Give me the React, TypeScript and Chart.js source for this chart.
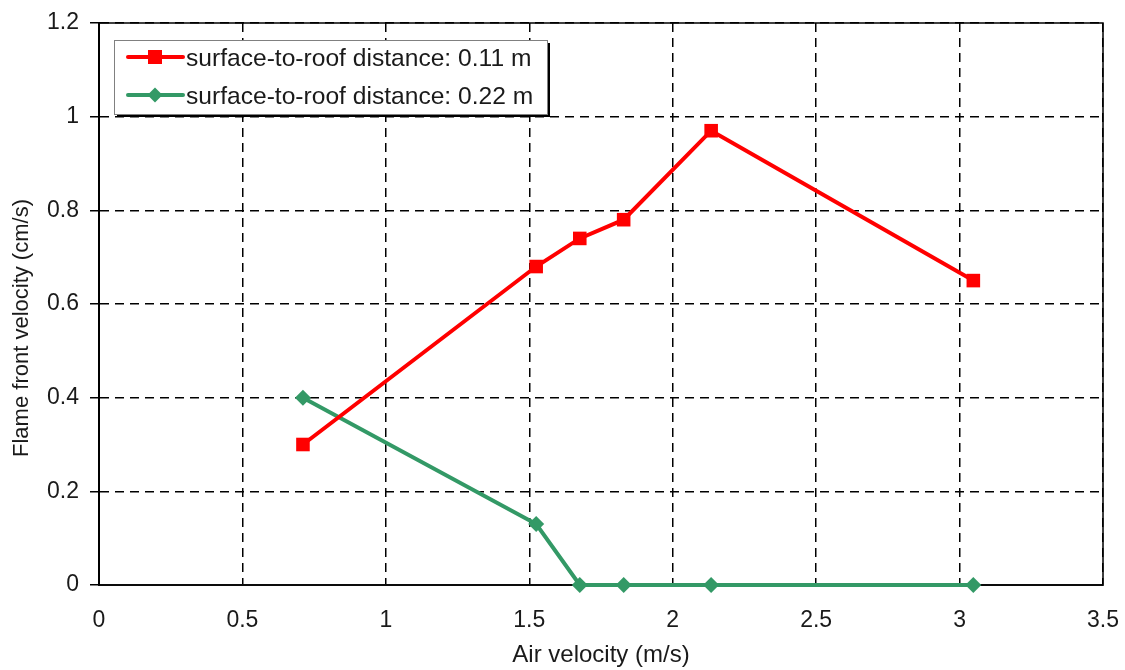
import { useEffect, useRef } from 'react';
import { Chart, registerables } from 'chart.js';

Chart.register(...registerables);

// Air velocity (m/s)
const airVelocity = [0.711, 1.524, 1.676, 1.829, 2.134, 3.048];
// Flame front velocity (cm/s)
const flameRoof011 = [0.3, 0.68, 0.74, 0.78, 0.97, 0.65];
const flameRoof022 = [0.4, 0.13, 0, 0, 0, 0];
const seriesLabels = ['surface-to-roof distance: 0.11 m', 'surface-to-roof distance: 0.22 m'];
const xAxisTitle = 'Air velocity (m/s)';
const yAxisTitle = 'Flame front velocity (cm/s)';

const FONT = "'Liberation Sans', Arial, sans-serif";
const RED = '#ff0000';
const GREEN = '#339966';
const TEXT = '#1a1a1a';

const fmt = (v: any) => String(Number(Number(v).toFixed(2)));

const framePlugin = {
  id: 'frame',
  beforeDatasetsDraw(chart: any) {
    const { ctx, chartArea: a } = chart;
    ctx.save();
    ctx.strokeStyle = '#000';
    ctx.lineWidth = 1.5;
    ctx.strokeRect(a.left, a.top, a.right - a.left, a.bottom - a.top);
    // vertical axis title
    ctx.translate(22, (a.top + a.bottom) / 2 + 24);
    ctx.rotate(-Math.PI / 2);
    ctx.fillStyle = TEXT;
    ctx.font = `22px ${FONT}`;
    ctx.textAlign = 'center';
    ctx.textBaseline = 'middle';
    ctx.fillText(yAxisTitle, 0, 0);
    ctx.restore();
  },
};

const boxLegendPlugin = {
  id: 'boxLegend',
  afterDraw(chart: any) {
    const { ctx, chartArea: a } = chart;
    const x = a.left + 15;
    const y = a.top + 17;
    const w = 433;
    const h = 74;
    ctx.save();
    ctx.fillStyle = '#000';
    ctx.fillRect(x + 3, y + 3, w, h);
    ctx.fillStyle = '#fff';
    ctx.fillRect(x, y, w, h);
    ctx.strokeStyle = '#808080';
    ctx.lineWidth = 1;
    ctx.strokeRect(x + 0.5, y + 0.5, w, h);
    const rows = [y + 17, y + 55];
    chart.data.datasets.forEach((ds: any, i: number) => {
      const ly = rows[i];
      ctx.strokeStyle = ds.borderColor;
      ctx.lineWidth = 4;
      ctx.lineCap = 'round';
      ctx.beginPath();
      ctx.moveTo(x + 14, ly);
      ctx.lineTo(x + 69, ly);
      ctx.stroke();
      ctx.fillStyle = ds.backgroundColor;
      const mx = x + 41;
      if (ds.pointStyle === 'rect') {
        ctx.fillRect(mx - 7, ly - 7, 14, 14);
      } else {
        ctx.beginPath();
        ctx.moveTo(mx - 7.5, ly);
        ctx.lineTo(mx, ly - 7.5);
        ctx.lineTo(mx + 7.5, ly);
        ctx.lineTo(mx, ly + 7.5);
        ctx.closePath();
        ctx.fill();
      }
      ctx.fillStyle = TEXT;
      ctx.font = `24.6px ${FONT}`;
      ctx.textBaseline = 'middle';
      ctx.textAlign = 'left';
      ctx.fillText(ds.label, x + 72, ly + 2);
    });
    ctx.restore();
  },
};

export default function App() {
  const ref = useRef<HTMLCanvasElement | null>(null);

  useEffect(() => {
    if (!ref.current) return;
    const chart = new Chart(ref.current, {
      type: 'line',
      data: {
        datasets: [
          {
            label: seriesLabels[0],
            data: airVelocity.map((x, i) => ({ x, y: flameRoof011[i] })),
            borderColor: RED,
            backgroundColor: RED,
            borderWidth: 4,
            pointStyle: 'rect',
            pointRadius: 9.6,
            pointBorderWidth: 0,
            pointHoverRadius: 9.6,
            clip: false as any,
          },
          {
            label: seriesLabels[1],
            data: airVelocity.map((x, i) => ({ x, y: flameRoof022[i] })),
            borderColor: GREEN,
            backgroundColor: GREEN,
            borderWidth: 4,
            pointStyle: 'rectRot',
            pointRadius: 8,
            pointBorderWidth: 0,
            pointHoverRadius: 8,
            clip: false as any,
          },
        ],
      },
      options: {
        animation: false,
        responsive: false,
        maintainAspectRatio: false,
        devicePixelRatio: 1,
        layout: { padding: { left: 0, top: 23, right: 22, bottom: 0 } },
        plugins: {
          legend: { display: false },
          tooltip: { enabled: false },
        },
        scales: {
          x: {
            type: 'linear',
            min: 0,
            max: 3.5,
            ticks: {
              stepSize: 0.5,
              color: TEXT,
              font: { family: FONT, size: 23 },
              padding: 22,
              maxRotation: 0,
              callback: fmt,
            },
            grid: {
              color: '#000',
              lineWidth: 1.5,
              drawTicks: false,
            },
            border: { display: true, color: '#333', width: 2, dash: [9, 6] },
            title: {
              display: true,
              text: xAxisTitle,
              color: TEXT,
              font: { family: FONT, size: 24 },
              padding: { top: 0, bottom: 0 },
            },
            afterFit: (s: any) => {
              s.height = 85;
              s.paddingLeft = 0;
              s.paddingRight = 0;
            },
          },
          y: {
            type: 'linear',
            min: 0,
            max: 1.2,
            ticks: {
              stepSize: 0.2,
              color: TEXT,
              font: { family: FONT, size: 23 },
              padding: 11,
              callback: fmt,
            },
            grid: {
              color: '#000',
              lineWidth: 1.5,
              drawTicks: true,
              tickLength: 9,
              tickBorderDash: [],
            },
            border: { display: true, color: '#000', width: 2, dash: [9, 6] },
            title: { display: false },
            afterFit: (s: any) => {
              s.width = 99;
              s.paddingTop = 0;
              s.paddingBottom = 0;
            },
          },
        },
      },
      plugins: [framePlugin, boxLegendPlugin],
    });
    return () => chart.destroy();
  }, []);

  return (
    <div style={{ position: 'absolute', left: 0, top: 0, width: 1125, height: 670, background: '#fff' }}>
      <canvas ref={ref} width={1125} height={670} style={{ width: 1125, height: 670, display: 'block' }} />
    </div>
  );
}
